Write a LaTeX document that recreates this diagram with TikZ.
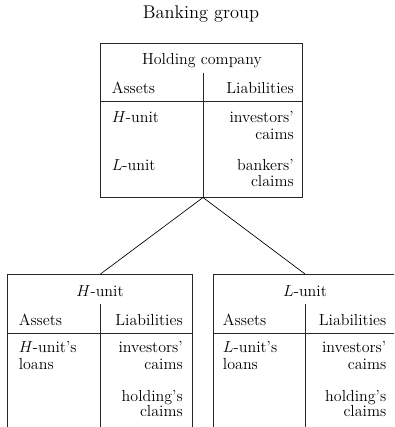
\documentclass[tikz,border=0pt]{standalone}
\begin{document}
\begin{tikzpicture}[x=0.75pt,y=-0.75pt,
  boxline/.style={draw=black!85,line width=0.5pt},
  txt/.style={inner sep=0pt,font=\fontsize{12}{12}\selectfont},
  lt/.style={txt,anchor=base west},
  rt/.style={txt,anchor=base east},
  ct/.style={txt,anchor=base},
  conn/.style={draw=black,line width=0.5pt}]
\useasboundingbox (0,0) rectangle (394,427);
\clip (0,0) rectangle (394,427);
% title
\node[inner sep=0pt,anchor=base,font=\fontsize{13.8}{16}\selectfont] (title) at (201,19) {Banking group};
% holding company box
\coordinate (hnw) at (100.5,43.5);
\coordinate (hse) at (302,197.5);
\draw[boxline] (hnw) rectangle (hse);
\coordinate (hdt) at (203,73);
\coordinate (hdb) at (203,197.5);
\draw[boxline] (hdt) -- (hdb);
\draw[boxline] (100.5,101.5) -- (302,101.5);
\node[ct] (hname) at (202,65) {Holding company};
\node[lt] (hA) at (111.5,94) {Assets};
\node[rt] (hL) at (294,94) {Liabilities};
\node[lt] (hH) at (111.5,122.7) {$H$-unit};
\node[lt] (hLu) at (111.5,171) {$L$-unit};
\node[rt] (hi1) at (294,122.7) {investors'};
\node[rt] (hi2) at (294,139.3) {caims};
\node[rt] (hb1) at (294,171) {bankers'};
\node[rt] (hb2) at (294,186.7) {claims};
% H-unit box
\draw[boxline] (7.5,274) rectangle (192,440);
\coordinate (Hdt) at (100.5,274);
\draw[boxline] (100.5,304) -- (100.5,440);
\draw[boxline] (7.5,333.5) -- (192,333.5);
\node[ct] (Hname) at (100,296) {$H$-unit};
\node[lt] (HA) at (18.5,325) {Assets};
\node[rt] (HL) at (183,325) {Liabilities};
\node[lt] (Ha1) at (18.5,352.7) {$H$-unit's};
\node[lt] (Ha2) at (18.5,369) {loans};
\node[rt] (Hi1) at (183,352.7) {investors'};
\node[rt] (Hi2) at (183,369) {caims};
\node[rt] (Hh1) at (183,401) {holding's};
\node[rt] (Hh2) at (183,416.7) {claims};
% L-unit box
\draw[boxline] (213,274) rectangle (397,440);
\coordinate (Ldt) at (305,274);
\draw[boxline] (305,304) -- (305,440);
\draw[boxline] (213,333.5) -- (397,333.5);
\node[ct] (Lname) at (305,296) {$L$-unit};
\node[lt] (LA) at (222.7,325) {Assets};
\node[rt] (LL) at (386.5,325) {Liabilities};
\node[lt] (La1) at (222.7,352.7) {$L$-unit's};
\node[lt] (La2) at (222.7,369) {loans};
\node[rt] (Li1) at (386.5,352.7) {investors'};
\node[rt] (Li2) at (386.5,369) {caims};
\node[rt] (Lh1) at (386.5,401) {holding's};
\node[rt] (Lh2) at (386.5,416.7) {claims};
% connectors
\draw[conn] (hdb) -- (Hdt);
\draw[conn] (hdb) -- (Ldt);
\end{tikzpicture}
\end{document}
